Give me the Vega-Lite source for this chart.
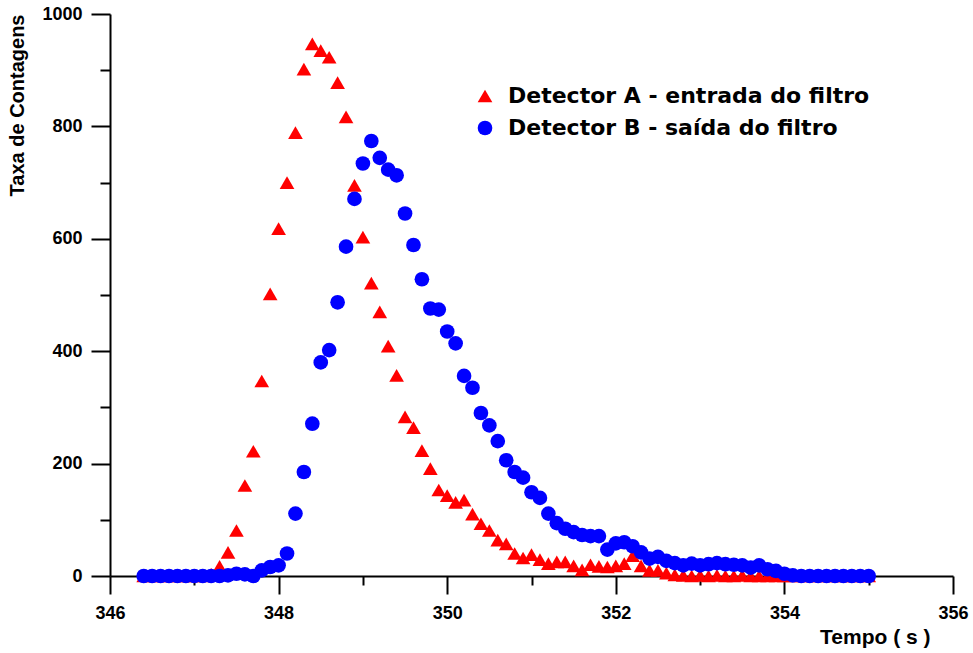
{
  "$schema": "https://vega.github.io/schema/vega-lite/v6.json",
  "width": 843,
  "height": 562,
  "autosize": {"type": "none"},
  "padding": {"left": 110, "top": 14, "right": 20, "bottom": 77},
  "background": "white",
  "config": {
    "view": {"stroke": null},
    "font": "Liberation Sans"
  },
  "datasets": {
    "pts": [
      {"t": 346.4, "v": 0, "s": "Detector A - entrada do filtro"},
      {"t": 346.5, "v": 0, "s": "Detector A - entrada do filtro"},
      {"t": 346.6, "v": 0, "s": "Detector A - entrada do filtro"},
      {"t": 346.7, "v": 0, "s": "Detector A - entrada do filtro"},
      {"t": 346.8, "v": 0, "s": "Detector A - entrada do filtro"},
      {"t": 346.9, "v": 0, "s": "Detector A - entrada do filtro"},
      {"t": 347.0, "v": 0, "s": "Detector A - entrada do filtro"},
      {"t": 347.1, "v": 0, "s": "Detector A - entrada do filtro"},
      {"t": 347.2, "v": 3, "s": "Detector A - entrada do filtro"},
      {"t": 347.3, "v": 17, "s": "Detector A - entrada do filtro"},
      {"t": 347.4, "v": 42, "s": "Detector A - entrada do filtro"},
      {"t": 347.5, "v": 81, "s": "Detector A - entrada do filtro"},
      {"t": 347.6, "v": 161, "s": "Detector A - entrada do filtro"},
      {"t": 347.7, "v": 222, "s": "Detector A - entrada do filtro"},
      {"t": 347.8, "v": 347, "s": "Detector A - entrada do filtro"},
      {"t": 347.9, "v": 502, "s": "Detector A - entrada do filtro"},
      {"t": 348.0, "v": 618, "s": "Detector A - entrada do filtro"},
      {"t": 348.1, "v": 700, "s": "Detector A - entrada do filtro"},
      {"t": 348.2, "v": 789, "s": "Detector A - entrada do filtro"},
      {"t": 348.3, "v": 902, "s": "Detector A - entrada do filtro"},
      {"t": 348.4, "v": 947, "s": "Detector A - entrada do filtro"},
      {"t": 348.5, "v": 935, "s": "Detector A - entrada do filtro"},
      {"t": 348.6, "v": 923, "s": "Detector A - entrada do filtro"},
      {"t": 348.7, "v": 878, "s": "Detector A - entrada do filtro"},
      {"t": 348.8, "v": 817, "s": "Detector A - entrada do filtro"},
      {"t": 348.9, "v": 695, "s": "Detector A - entrada do filtro"},
      {"t": 349.0, "v": 603, "s": "Detector A - entrada do filtro"},
      {"t": 349.1, "v": 521, "s": "Detector A - entrada do filtro"},
      {"t": 349.2, "v": 470, "s": "Detector A - entrada do filtro"},
      {"t": 349.3, "v": 409, "s": "Detector A - entrada do filtro"},
      {"t": 349.4, "v": 357, "s": "Detector A - entrada do filtro"},
      {"t": 349.5, "v": 283, "s": "Detector A - entrada do filtro"},
      {"t": 349.6, "v": 264, "s": "Detector A - entrada do filtro"},
      {"t": 349.7, "v": 223, "s": "Detector A - entrada do filtro"},
      {"t": 349.8, "v": 191, "s": "Detector A - entrada do filtro"},
      {"t": 349.9, "v": 153, "s": "Detector A - entrada do filtro"},
      {"t": 350.0, "v": 143, "s": "Detector A - entrada do filtro"},
      {"t": 350.1, "v": 131, "s": "Detector A - entrada do filtro"},
      {"t": 350.2, "v": 135, "s": "Detector A - entrada do filtro"},
      {"t": 350.3, "v": 110, "s": "Detector A - entrada do filtro"},
      {"t": 350.4, "v": 93, "s": "Detector A - entrada do filtro"},
      {"t": 350.5, "v": 81, "s": "Detector A - entrada do filtro"},
      {"t": 350.6, "v": 64, "s": "Detector A - entrada do filtro"},
      {"t": 350.7, "v": 57, "s": "Detector A - entrada do filtro"},
      {"t": 350.8, "v": 40, "s": "Detector A - entrada do filtro"},
      {"t": 350.9, "v": 32, "s": "Detector A - entrada do filtro"},
      {"t": 351.0, "v": 38, "s": "Detector A - entrada do filtro"},
      {"t": 351.1, "v": 29, "s": "Detector A - entrada do filtro"},
      {"t": 351.2, "v": 22, "s": "Detector A - entrada do filtro"},
      {"t": 351.3, "v": 25, "s": "Detector A - entrada do filtro"},
      {"t": 351.4, "v": 25, "s": "Detector A - entrada do filtro"},
      {"t": 351.5, "v": 18, "s": "Detector A - entrada do filtro"},
      {"t": 351.6, "v": 11, "s": "Detector A - entrada do filtro"},
      {"t": 351.7, "v": 20, "s": "Detector A - entrada do filtro"},
      {"t": 351.8, "v": 17, "s": "Detector A - entrada do filtro"},
      {"t": 351.9, "v": 16, "s": "Detector A - entrada do filtro"},
      {"t": 352.0, "v": 18, "s": "Detector A - entrada do filtro"},
      {"t": 352.1, "v": 22, "s": "Detector A - entrada do filtro"},
      {"t": 352.2, "v": 36, "s": "Detector A - entrada do filtro"},
      {"t": 352.3, "v": 18, "s": "Detector A - entrada do filtro"},
      {"t": 352.4, "v": 10, "s": "Detector A - entrada do filtro"},
      {"t": 352.5, "v": 10, "s": "Detector A - entrada do filtro"},
      {"t": 352.6, "v": 5, "s": "Detector A - entrada do filtro"},
      {"t": 352.7, "v": 2, "s": "Detector A - entrada do filtro"},
      {"t": 352.8, "v": 1, "s": "Detector A - entrada do filtro"},
      {"t": 352.9, "v": 0, "s": "Detector A - entrada do filtro"},
      {"t": 353.0, "v": 1, "s": "Detector A - entrada do filtro"},
      {"t": 353.1, "v": 0, "s": "Detector A - entrada do filtro"},
      {"t": 353.2, "v": 1, "s": "Detector A - entrada do filtro"},
      {"t": 353.3, "v": 0, "s": "Detector A - entrada do filtro"},
      {"t": 353.4, "v": 0, "s": "Detector A - entrada do filtro"},
      {"t": 353.5, "v": 1, "s": "Detector A - entrada do filtro"},
      {"t": 353.6, "v": 0, "s": "Detector A - entrada do filtro"},
      {"t": 353.7, "v": 0, "s": "Detector A - entrada do filtro"},
      {"t": 353.8, "v": 0, "s": "Detector A - entrada do filtro"},
      {"t": 353.9, "v": 0, "s": "Detector A - entrada do filtro"},
      {"t": 354.0, "v": 0, "s": "Detector A - entrada do filtro"},
      {"t": 354.1, "v": 0, "s": "Detector A - entrada do filtro"},
      {"t": 354.2, "v": 0, "s": "Detector A - entrada do filtro"},
      {"t": 354.3, "v": 0, "s": "Detector A - entrada do filtro"},
      {"t": 354.4, "v": 0, "s": "Detector A - entrada do filtro"},
      {"t": 354.5, "v": 0, "s": "Detector A - entrada do filtro"},
      {"t": 354.6, "v": 0, "s": "Detector A - entrada do filtro"},
      {"t": 354.7, "v": 0, "s": "Detector A - entrada do filtro"},
      {"t": 354.8, "v": 0, "s": "Detector A - entrada do filtro"},
      {"t": 354.9, "v": 0, "s": "Detector A - entrada do filtro"},
      {"t": 355.0, "v": 0, "s": "Detector A - entrada do filtro"},
      {"t": 346.4, "v": 0, "s": "Detector B - saída do filtro"},
      {"t": 346.5, "v": 0, "s": "Detector B - saída do filtro"},
      {"t": 346.6, "v": 0, "s": "Detector B - saída do filtro"},
      {"t": 346.7, "v": 0, "s": "Detector B - saída do filtro"},
      {"t": 346.8, "v": 0, "s": "Detector B - saída do filtro"},
      {"t": 346.9, "v": 0, "s": "Detector B - saída do filtro"},
      {"t": 347.0, "v": 0, "s": "Detector B - saída do filtro"},
      {"t": 347.1, "v": 0, "s": "Detector B - saída do filtro"},
      {"t": 347.2, "v": 0, "s": "Detector B - saída do filtro"},
      {"t": 347.3, "v": 0, "s": "Detector B - saída do filtro"},
      {"t": 347.4, "v": 1, "s": "Detector B - saída do filtro"},
      {"t": 347.5, "v": 4, "s": "Detector B - saída do filtro"},
      {"t": 347.6, "v": 3, "s": "Detector B - saída do filtro"},
      {"t": 347.7, "v": 0, "s": "Detector B - saída do filtro"},
      {"t": 347.8, "v": 10, "s": "Detector B - saída do filtro"},
      {"t": 347.9, "v": 16, "s": "Detector B - saída do filtro"},
      {"t": 348.0, "v": 19, "s": "Detector B - saída do filtro"},
      {"t": 348.1, "v": 40, "s": "Detector B - saída do filtro"},
      {"t": 348.2, "v": 111, "s": "Detector B - saída do filtro"},
      {"t": 348.3, "v": 185, "s": "Detector B - saída do filtro"},
      {"t": 348.4, "v": 271, "s": "Detector B - saída do filtro"},
      {"t": 348.5, "v": 380, "s": "Detector B - saída do filtro"},
      {"t": 348.6, "v": 402, "s": "Detector B - saída do filtro"},
      {"t": 348.7, "v": 487, "s": "Detector B - saída do filtro"},
      {"t": 348.8, "v": 586, "s": "Detector B - saída do filtro"},
      {"t": 348.9, "v": 671, "s": "Detector B - saída do filtro"},
      {"t": 349.0, "v": 734, "s": "Detector B - saída do filtro"},
      {"t": 349.1, "v": 774, "s": "Detector B - saída do filtro"},
      {"t": 349.2, "v": 744, "s": "Detector B - saída do filtro"},
      {"t": 349.3, "v": 723, "s": "Detector B - saída do filtro"},
      {"t": 349.4, "v": 713, "s": "Detector B - saída do filtro"},
      {"t": 349.5, "v": 645, "s": "Detector B - saída do filtro"},
      {"t": 349.6, "v": 589, "s": "Detector B - saída do filtro"},
      {"t": 349.7, "v": 528, "s": "Detector B - saída do filtro"},
      {"t": 349.8, "v": 476, "s": "Detector B - saída do filtro"},
      {"t": 349.9, "v": 474, "s": "Detector B - saída do filtro"},
      {"t": 350.0, "v": 435, "s": "Detector B - saída do filtro"},
      {"t": 350.1, "v": 414, "s": "Detector B - saída do filtro"},
      {"t": 350.2, "v": 356, "s": "Detector B - saída do filtro"},
      {"t": 350.3, "v": 335, "s": "Detector B - saída do filtro"},
      {"t": 350.4, "v": 290, "s": "Detector B - saída do filtro"},
      {"t": 350.5, "v": 268, "s": "Detector B - saída do filtro"},
      {"t": 350.6, "v": 240, "s": "Detector B - saída do filtro"},
      {"t": 350.7, "v": 206, "s": "Detector B - saída do filtro"},
      {"t": 350.8, "v": 185, "s": "Detector B - saída do filtro"},
      {"t": 350.9, "v": 175, "s": "Detector B - saída do filtro"},
      {"t": 351.0, "v": 149, "s": "Detector B - saída do filtro"},
      {"t": 351.1, "v": 139, "s": "Detector B - saída do filtro"},
      {"t": 351.2, "v": 111, "s": "Detector B - saída do filtro"},
      {"t": 351.3, "v": 94, "s": "Detector B - saída do filtro"},
      {"t": 351.4, "v": 84, "s": "Detector B - saída do filtro"},
      {"t": 351.5, "v": 78, "s": "Detector B - saída do filtro"},
      {"t": 351.6, "v": 73, "s": "Detector B - saída do filtro"},
      {"t": 351.7, "v": 71, "s": "Detector B - saída do filtro"},
      {"t": 351.8, "v": 71, "s": "Detector B - saída do filtro"},
      {"t": 351.9, "v": 47, "s": "Detector B - saída do filtro"},
      {"t": 352.0, "v": 58, "s": "Detector B - saída do filtro"},
      {"t": 352.1, "v": 60, "s": "Detector B - saída do filtro"},
      {"t": 352.2, "v": 53, "s": "Detector B - saída do filtro"},
      {"t": 352.3, "v": 42, "s": "Detector B - saída do filtro"},
      {"t": 352.4, "v": 31, "s": "Detector B - saída do filtro"},
      {"t": 352.5, "v": 34, "s": "Detector B - saída do filtro"},
      {"t": 352.6, "v": 27, "s": "Detector B - saída do filtro"},
      {"t": 352.7, "v": 23, "s": "Detector B - saída do filtro"},
      {"t": 352.8, "v": 19, "s": "Detector B - saída do filtro"},
      {"t": 352.9, "v": 22, "s": "Detector B - saída do filtro"},
      {"t": 353.0, "v": 19, "s": "Detector B - saída do filtro"},
      {"t": 353.1, "v": 21, "s": "Detector B - saída do filtro"},
      {"t": 353.2, "v": 23, "s": "Detector B - saída do filtro"},
      {"t": 353.3, "v": 21, "s": "Detector B - saída do filtro"},
      {"t": 353.4, "v": 20, "s": "Detector B - saída do filtro"},
      {"t": 353.5, "v": 19, "s": "Detector B - saída do filtro"},
      {"t": 353.6, "v": 15, "s": "Detector B - saída do filtro"},
      {"t": 353.7, "v": 19, "s": "Detector B - saída do filtro"},
      {"t": 353.8, "v": 12, "s": "Detector B - saída do filtro"},
      {"t": 353.9, "v": 9, "s": "Detector B - saída do filtro"},
      {"t": 354.0, "v": 4, "s": "Detector B - saída do filtro"},
      {"t": 354.1, "v": 1, "s": "Detector B - saída do filtro"},
      {"t": 354.2, "v": 0, "s": "Detector B - saída do filtro"},
      {"t": 354.3, "v": 0, "s": "Detector B - saída do filtro"},
      {"t": 354.4, "v": 0, "s": "Detector B - saída do filtro"},
      {"t": 354.5, "v": 0, "s": "Detector B - saída do filtro"},
      {"t": 354.6, "v": 0, "s": "Detector B - saída do filtro"},
      {"t": 354.7, "v": 0, "s": "Detector B - saída do filtro"},
      {"t": 354.8, "v": 0, "s": "Detector B - saída do filtro"},
      {"t": 354.9, "v": 0, "s": "Detector B - saída do filtro"},
      {"t": 355.0, "v": 0, "s": "Detector B - saída do filtro"}
    ]
  },
  "data": {"name": "pts"},
  "mark": {"type": "point", "filled": true, "opacity": 1, "size": 215, "strokeWidth": 0},
  "encoding": {
    "x": {
      "field": "t",
      "type": "quantitative",
      "scale": {"domain": [346, 356], "nice": false, "zero": false},
      "axis": {
        "title": "Tempo ( s )",
        "titleFont": "Liberation Sans",
        "titleFontSize": 21,
        "titleFontWeight": "bold",
        "titleColor": "black",
        "titleX": 820,
        "titleY": 67,
        "titleAlign": "right",
        "titleBaseline": "alphabetic",
        "titleAnchor": null,
        "values": [346, 347, 348, 349, 350, 351, 352, 353, 354, 355, 356],
        "labelExpr": "datum.value % 2 === 0 ? datum.label : ''",
        "labelFont": "Liberation Sans",
        "labelFontSize": 18,
        "labelFontWeight": "bold",
        "labelColor": "black",
        "labelPadding": 10,
        "labelFlush": false,
        "labelOverlap": false,
        "grid": false,
        "domainColor": "black",
        "domainWidth": 2,
        "tickColor": "black",
        "tickWidth": 2,
        "tickSize": {"condition": {"test": "datum.value % 2 === 0", "value": 18}, "value": 9}
      }
    },
    "y": {
      "field": "v",
      "type": "quantitative",
      "scale": {"domain": [0, 1000], "nice": false},
      "axis": {
        "title": "Taxa de Contagens",
        "titleFont": "Liberation Sans",
        "titleFontSize": 20,
        "titleFontWeight": "bold",
        "titleColor": "black",
        "titleAnchor": "end",
        "titlePadding": 14,
        "values": [0, 100, 200, 300, 400, 500, 600, 700, 800, 900, 1000],
        "labelExpr": "datum.value % 200 === 0 ? datum.label : ''",
        "format": "d",
        "labelFont": "Liberation Sans",
        "labelFontSize": 18,
        "labelFontWeight": "bold",
        "labelColor": "black",
        "labelPadding": 9,
        "labelOverlap": false,
        "grid": false,
        "domainColor": "black",
        "domainWidth": 2,
        "tickColor": "black",
        "tickWidth": 2,
        "tickSize": {"condition": {"test": "datum.value % 200 === 0", "value": 19}, "value": 10}
      }
    },
    "color": {
      "field": "s",
      "type": "nominal",
      "scale": {"domain": ["Detector A - entrada do filtro", "Detector B - saída do filtro"], "range": ["#ff0000", "#0000ff"]},
      "legend": {
        "title": null,
        "orient": "none",
        "legendX": 364,
        "legendY": 71,
        "padding": 0,
        "labelFont": "DejaVu Sans",
        "labelFontSize": 22,
        "labelFontWeight": "bold",
        "labelColor": "black",
        "labelOffset": 12,
        "labelLimit": 0,
        "rowPadding": 10,
        "symbolSize": 215,
        "symbolStrokeWidth": 0,
        "symbolOpacity": 1
      }
    },
    "shape": {
      "field": "s",
      "type": "nominal",
      "scale": {"domain": ["Detector A - entrada do filtro", "Detector B - saída do filtro"], "range": ["triangle-up", "circle"]},
      "legend": {
        "title": null,
        "orient": "none",
        "legendX": 364,
        "legendY": 71,
        "padding": 0,
        "labelFont": "DejaVu Sans",
        "labelFontSize": 22,
        "labelFontWeight": "bold",
        "labelColor": "black",
        "labelOffset": 12,
        "labelLimit": 0,
        "rowPadding": 10,
        "symbolSize": 215,
        "symbolStrokeWidth": 0,
        "symbolOpacity": 1
      }
    }
  }
}
